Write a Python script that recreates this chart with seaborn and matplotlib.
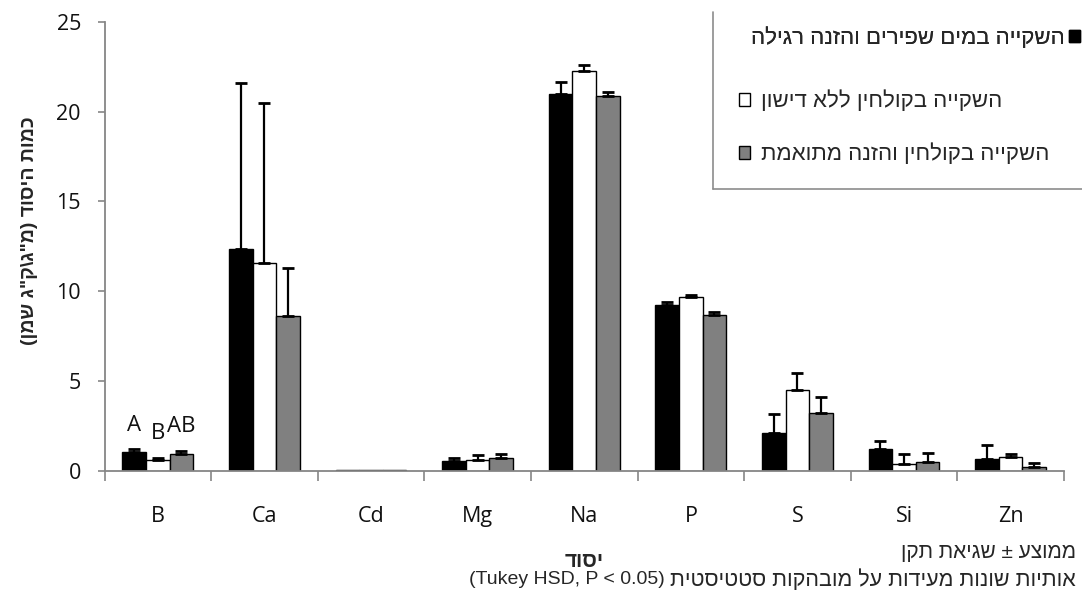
import numpy as np
import pandas as pd
import seaborn as sns
import matplotlib.pyplot as plt
import matplotlib.patches as mpatches
from matplotlib.lines import Line2D

# element names on the x axis
elements = ["B", "Ca", "Cd", "Mg", "Na", "P", "S", "Si", "Zn"]

# treatments (logical Hebrew order)
treat_fresh = "השקייה במים שפירים והזנה רגילה"
treat_eff = "השקייה בקולחין ללא דישון"
treat_adj = "השקייה בקולחין והזנה מתואמת"

# means (mg/kg oil)
mean_fresh = [1.07, 12.33, 0.05, 0.55, 20.95, 9.22, 2.13, 1.20, 0.65]
mean_eff = [0.60, 11.55, 0.05, 0.60, 22.26, 9.67, 4.50, 0.40, 0.78]
mean_adj = [0.93, 8.60, 0.05, 0.70, 20.86, 8.67, 3.24, 0.48, 0.20]

# standard errors (upper bars only)
se_fresh = [0.13, 9.27, 0.0, 0.20, 0.68, 0.20, 1.02, 0.47, 0.78]
se_eff = [0.15, 8.93, 0.0, 0.28, 0.32, 0.11, 0.96, 0.53, 0.16]
se_adj = [0.17, 2.69, 0.0, 0.25, 0.22, 0.20, 0.89, 0.54, 0.26]

# Tukey letters shown above the B group
letters_b = ["A", "B", "AB"]

y_label = 'כמות היסוד (מ"ג\\ק"ג שמן)'
x_label = "יסוד"
note_1 = "ממוצע ± שגיאת תקן"
note_2_he = "אותיות שונות מעידות על מובהקות סטטיסטית"
note_2_en = "(Tukey HSD, P < 0.05)"


def rtl(s):
    """matplotlib has no bidi support: turn a Hebrew string into visual order."""
    swap = {"(": ")", ")": "("}
    return "".join(swap.get(c, c) for c in reversed(s))


treatments = [treat_fresh, treat_eff, treat_adj]
means = [mean_fresh, mean_eff, mean_adj]
errors = [se_fresh, se_eff, se_adj]
colors = ["#000000", "#ffffff", "#808080"]

df = pd.DataFrame({
    "element": elements * 3,
    "treatment": sum([[t] * len(elements) for t in treatments], []),
    "value": sum(means, []),
})

sns.set_style("white")
plt.rcParams["font.family"] = ["Open Sans", "DejaVu Sans"]
heb = ["Liberation Sans", "DejaVu Sans"]

fig = plt.figure(figsize=(10.82, 5.97), dpi=100)
ax = fig.add_axes([104.5 / 1082, 1 - 471 / 597, (1064 - 104.5) / 1082, (471 - 21.7) / 597])

sns.barplot(data=df, x="element", y="value", hue="treatment", order=elements,
            hue_order=treatments, palette=colors, saturation=1, width=0.664,
            edgecolor="black", linewidth=1, errorbar=None, legend=False, ax=ax)

# upper error bars, placed on the bars seaborn drew
for cont, m, e in zip(ax.containers, means, errors):
    xs = np.array([p.get_x() + p.get_width() / 2 for p in cont])
    m = np.array(m)
    e = np.array(e)
    keep = e > 0
    ax.errorbar(xs[keep], m[keep], yerr=[np.zeros(keep.sum()), e[keep]], fmt="none",
                ecolor="black", elinewidth=1.6, capsize=4, capthick=2, zorder=3)

# significance letters over element B
for cont, m, e, lab in zip(ax.containers, means, errors, letters_b):
    p = cont.patches[0]
    ax.annotate(lab, (p.get_x() + p.get_width() / 2, m[0] + e[0]), xytext=(0, 10),
                textcoords="offset points", ha="center", va="bottom", fontsize=16,
                color="#111111")

ax.set_ylim(0, 25)
ax.set_xlim(-0.5, len(elements) - 0.5)
ax.set_yticks(np.arange(0, 26, 5))

# category boundaries as ticks, names in between
ax.set_xticks(np.arange(-0.5, len(elements), 1))
ax.set_xticklabels([])
ax.set_xticks(np.arange(len(elements)), minor=True)
ax.set_xticklabels(elements, minor=True)
ax.tick_params(axis="x", which="major", direction="out", length=7, width=1.2,
               color="#868686", bottom=True)
ax.tick_params(axis="x", which="minor", length=0, pad=25, labelsize=15.5, colors="#111111")
ax.tick_params(axis="y", direction="out", length=5, width=1.2, color="#868686",
               left=True, pad=12, labelsize=15.5, labelcolor="#111111")

for side in ["top", "right"]:
    ax.spines[side].set_visible(False)
for side in ["left", "bottom"]:
    ax.spines[side].set_color("#868686")
    ax.spines[side].set_linewidth(1.3)

ax.set_ylabel(rtl(y_label), fontsize=14, fontweight="bold", family=heb)
ax.yaxis.set_label_coords(-(104.5 - 38) / 959.5, (471 - 231) / 449.3)
ax.set_xlabel(rtl(x_label), fontsize=15, fontweight="bold", family=heb)
ax.xaxis.set_label_coords(0.5, -(552 - 471) / 449.3)

# legend: first entry has its box at the right, the others at the left
handles = [mpatches.Patch(facecolor=c, edgecolor="black", linewidth=1) for c in colors]
leg_font = {"family": heb, "size": 16}
leg1 = fig.legend([handles[0]], [rtl(treat_fresh)], loc="center right",
                  bbox_to_anchor=(1080 / 1082, 1 - 38 / 597), markerfirst=False,
                  frameon=False, prop=leg_font, handlelength=0.5, handleheight=0.5,
                  handletextpad=0.2, borderpad=0, borderaxespad=0)
leg2 = fig.legend(handles[1:], [rtl(treat_eff), rtl(treat_adj)], loc="center left",
                  bbox_to_anchor=(739 / 1082, 1 - 128 / 597), markerfirst=True,
                  frameon=False, prop=leg_font, handlelength=0.5, handleheight=0.5,
                  handletextpad=0.5, labelspacing=1.4, borderpad=0, borderaxespad=0)
fig.add_artist(leg1)

# legend frame (only its left and bottom edges fall inside the picture)
fig.add_artist(Line2D([713 / 1082, 713 / 1082], [1 - 12 / 597, 1 - 189 / 597],
                      transform=fig.transFigure, color="#8c8c8c", lw=1.2))
fig.add_artist(Line2D([713 / 1082, 1.0], [1 - 189 / 597, 1 - 189 / 597],
                      transform=fig.transFigure, color="#8c8c8c", lw=1.2))

fig.text(1076 / 1082, 1 - 552 / 597, rtl(note_1), ha="right", va="center",
         fontsize=15, family=heb)
he_note = fig.text(1076 / 1082, 1 - 580 / 597, rtl(note_2_he), ha="right",
                   va="center", fontsize=15.5, family=heb)
# the English part sits to the left of the Hebrew sentence
ax.annotate(note_2_en, xy=(0, 0.5), xycoords=he_note, xytext=(-4, 0),
            textcoords="offset points", ha="right", va="center", fontsize=14,
            family=heb, annotation_clip=False)

fig.savefig("out.png", dpi=100)
